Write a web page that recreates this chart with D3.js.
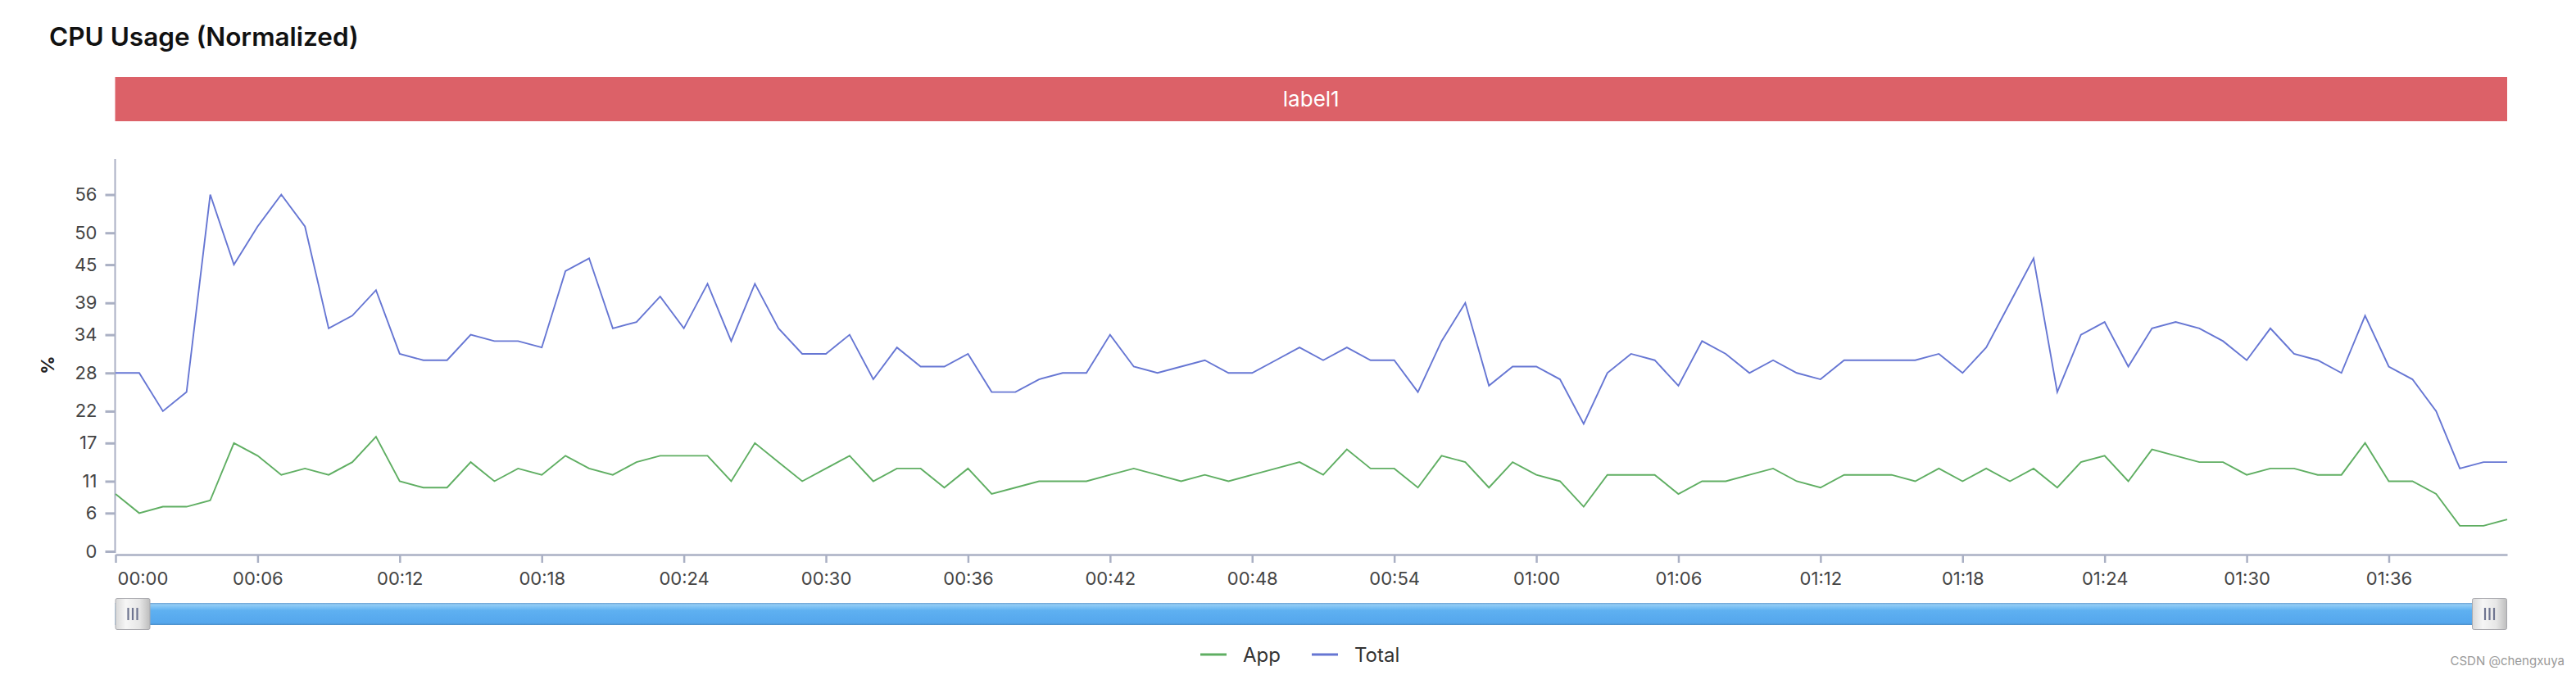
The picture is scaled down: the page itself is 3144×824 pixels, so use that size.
<!DOCTYPE html>
<html>
<head>
<meta charset="utf-8">
<script src="https://cdn.jsdelivr.net/npm/d3@7"></script>
<style>
  html, body { margin: 0; padding: 0; background: #fff; }
  svg { display: block; }
</style>
</head>
<body>
<svg id="chart" width="3144" height="824"></svg>
<script>
const chartTitle = "CPU Usage (Normalized)";
const bandLabel = "label1";
const yAxisTitle = "%";
const seriesNames = ["App", "Total"];
const timeLabels = [
  "00:00","00:01","00:02","00:03","00:04","00:05","00:06","00:07","00:08","00:09",
  "00:10","00:11","00:12","00:13","00:14","00:15","00:16","00:17","00:18","00:19",
  "00:20","00:21","00:22","00:23","00:24","00:25","00:26","00:27","00:28","00:29",
  "00:30","00:31","00:32","00:33","00:34","00:35","00:36","00:37","00:38","00:39",
  "00:40","00:41","00:42","00:43","00:44","00:45","00:46","00:47","00:48","00:49",
  "00:50","00:51","00:52","00:53","00:54","00:55","00:56","00:57","00:58","00:59",
  "01:00","01:01","01:02","01:03","01:04","01:05","01:06","01:07","01:08","01:09",
  "01:10","01:11","01:12","01:13","01:14","01:15","01:16","01:17","01:18","01:19",
  "01:20","01:21","01:22","01:23","01:24","01:25","01:26","01:27","01:28","01:29",
  "01:30","01:31","01:32","01:33","01:34","01:35","01:36","01:37","01:38","01:39",
  "01:40","01:41"
];
const xTickLabels = ["00:00","00:06","00:12","00:18","00:24","00:30","00:36","00:42","00:48","00:54",
  "01:00","01:06","01:12","01:18","01:24","01:30","01:36"];
const yTickValues = [0, 6, 11, 17, 22, 28, 34, 39, 45, 50, 56];
const yMax = 61.6;
const appValues = [
  9,6,7,7,8,17,15,12,13,12,14,18,11,10,10,14,11,13,12,15,13,12,14,15,15,15,11,
  17,14,11,13,15,11,13,13,10,13,9,10,11,11,11,12,13,12,11,12,11,12,13,14,
  12,16,13,13,10,15,14,10,14,12,11,7,12,12,12,9,11,11,12,13,11,10,12,12,12,
  11,13,11,13,11,13,10,14,15,11,16,15,14,14,12,13,13,12,12,17,11,11,9,4,4,5
];
const totalValues = [
  28,28,22,25,56,45,51,56,51,35,37,41,31,30,30,34,33,33,32,44,46,35,36,40,35,42,33,
  42,35,31,31,34,27,32,29,29,31,25,25,27,28,28,34,29,28,29,30,28,28,30,32,
  30,32,30,30,25,33,39,26,29,29,27,20,28,31,30,26,33,31,28,30,28,27,30,30,30,
  30,31,28,32,39,46,25,34,36,29,35,36,35,33,30,35,31,30,28,37,29,27,22,13,14,14
];
const seriesColors = ["#5fae62", "#6676d3"];
const watermark = "CSDN @chengxuya";

(function () {
const FONT = "Inter, 'Liberation Sans', Arial, sans-serif";
const axisColor = "#aab0c4";
const svg = d3.select("#chart");

const pLeft = 140.5, pRight = 3060, pTop = 194, pBottom = 673, xAxisY = 677;

const x = d3.scalePoint().domain(timeLabels).range([pLeft + 0.5, pRight]);
const y = d3.scaleLinear().domain([0, yMax]).range([pBottom, pTop]);

// Title
svg.append("text")
  .attr("x", 60).attr("y", 56)
  .attr("font-family", FONT).attr("font-size", 31.5).attr("font-weight", 600)
  .attr("fill", "#111").text(chartTitle);

// Band
svg.append("rect")
  .attr("x", pLeft).attr("y", 94).attr("width", pRight - pLeft).attr("height", 54)
  .attr("fill", "#dc6168");
svg.append("text")
  .attr("x", (pLeft + pRight) / 2).attr("y", 121).attr("dy", "0.36em")
  .attr("text-anchor", "middle")
  .attr("font-family", FONT).attr("font-size", 26)
  .attr("fill", "#fff").text(bandLabel);

// Y axis
const yAxis = svg.append("g").attr("transform", `translate(${pLeft},0)`)
  .call(d3.axisLeft(y).tickValues(yTickValues).tickSize(12).tickPadding(10).tickSizeOuter(0));
yAxis.select(".domain").attr("stroke", axisColor).attr("stroke-width", 2)
  .attr("d", `M0,${pTop}V${pBottom + 2}`);
yAxis.selectAll(".tick line").attr("stroke", axisColor).attr("stroke-width", 3);
yAxis.selectAll(".tick text").attr("font-family", FONT).attr("font-size", 22).attr("fill", "#444");

svg.append("text")
  .attr("transform", `translate(66,${(pTop + pBottom) / 2 + 12}) rotate(-90)`)
  .attr("text-anchor", "middle")
  .attr("font-family", FONT).attr("font-size", 22).attr("font-weight", 700)
  .attr("fill", "#222").text(yAxisTitle);

// X axis
const xAxis = svg.append("g").attr("transform", `translate(0,${xAxisY})`)
  .call(d3.axisBottom(x).tickValues(xTickLabels).tickSize(10).tickPadding(11).tickSizeOuter(0));
xAxis.select(".domain").attr("stroke", axisColor).attr("stroke-width", 2.5);
xAxis.selectAll(".tick line").attr("stroke", axisColor).attr("stroke-width", 2.5);
xAxis.selectAll(".tick text").attr("font-family", FONT).attr("font-size", 22).attr("fill", "#444");
xAxis.selectAll(".tick").filter(d => d === timeLabels[0]).select("text")
  .attr("text-anchor", "start").attr("x", 2);

// Lines
const line = d3.line().x((d, i) => x(timeLabels[i])).y(d => y(d));
[appValues, totalValues].forEach((vals, k) => {
  svg.append("path").datum(vals)
    .attr("fill", "none").attr("stroke", seriesColors[k])
    .attr("stroke-width", 1.9).attr("stroke-linejoin", "miter")
    .attr("d", line);
});

// Slider (data zoom)
const defs = svg.append("defs");
const gb = defs.append("linearGradient").attr("id", "barGrad").attr("x1", 0).attr("y1", 0).attr("x2", 0).attr("y2", 1);
gb.append("stop").attr("offset", 0).attr("stop-color", "#6d9fd0");
gb.append("stop").attr("offset", 0.08).attr("stop-color", "#92cdf6");
gb.append("stop").attr("offset", 0.35).attr("stop-color", "#5eb0f1");
gb.append("stop").attr("offset", 0.9).attr("stop-color", "#55a7ed");
gb.append("stop").attr("offset", 1).attr("stop-color", "#4d8fc8");
const gh = defs.append("linearGradient").attr("id", "handleGrad").attr("x1", 0).attr("y1", 0).attr("x2", 1).attr("y2", 0);
gh.append("stop").attr("offset", 0).attr("stop-color", "#d8d8d8");
gh.append("stop").attr("offset", 0.3).attr("stop-color", "#f6f6f6");
gh.append("stop").attr("offset", 0.7).attr("stop-color", "#e6e6e6");
gh.append("stop").attr("offset", 1).attr("stop-color", "#bdbdbd");

const sliderY = 736, sliderH = 27;
svg.append("rect").attr("x", pLeft).attr("y", sliderY).attr("width", pRight - pLeft).attr("height", sliderH)
  .attr("fill", "url(#barGrad)");
const handleW = 43;
[pLeft, pRight - handleW].forEach(hx => {
  const g = svg.append("g").attr("transform", `translate(${hx},730)`);
  g.append("rect").attr("x", 0.5).attr("y", 0.5).attr("width", handleW - 1).attr("height", 38)
    .attr("rx", 2).attr("fill", "url(#handleGrad)").attr("stroke", "#a9a9ae").attr("stroke-width", 1);
  [16, 21.5, 27].forEach(lx => {
    g.append("line").attr("x1", lx).attr("x2", lx).attr("y1", 12).attr("y2", 27)
      .attr("stroke", "#6f7590").attr("stroke-width", 2.2);
  });
});

// Legend
const legendItems = [
  { name: seriesNames[0], color: seriesColors[0], x: 1465 },
  { name: seriesNames[1], color: seriesColors[1], x: 1601 }
];
legendItems.forEach(it => {
  svg.append("line").attr("x1", it.x).attr("x2", it.x + 32).attr("y1", 799).attr("y2", 799)
    .attr("stroke", it.color).attr("stroke-width", 3);
  svg.append("text").attr("x", it.x + 52).attr("y", 799).attr("dy", "0.36em")
    .attr("font-family", FONT).attr("font-size", 24).attr("fill", "#333").text(it.name);
});

// Watermark
svg.append("text").attr("x", 3130).attr("y", 812).attr("text-anchor", "end")
  .attr("font-family", FONT).attr("font-size", 15).attr("fill", "#9a9a9a").text(watermark);
})();
</script>
</body>
</html>
